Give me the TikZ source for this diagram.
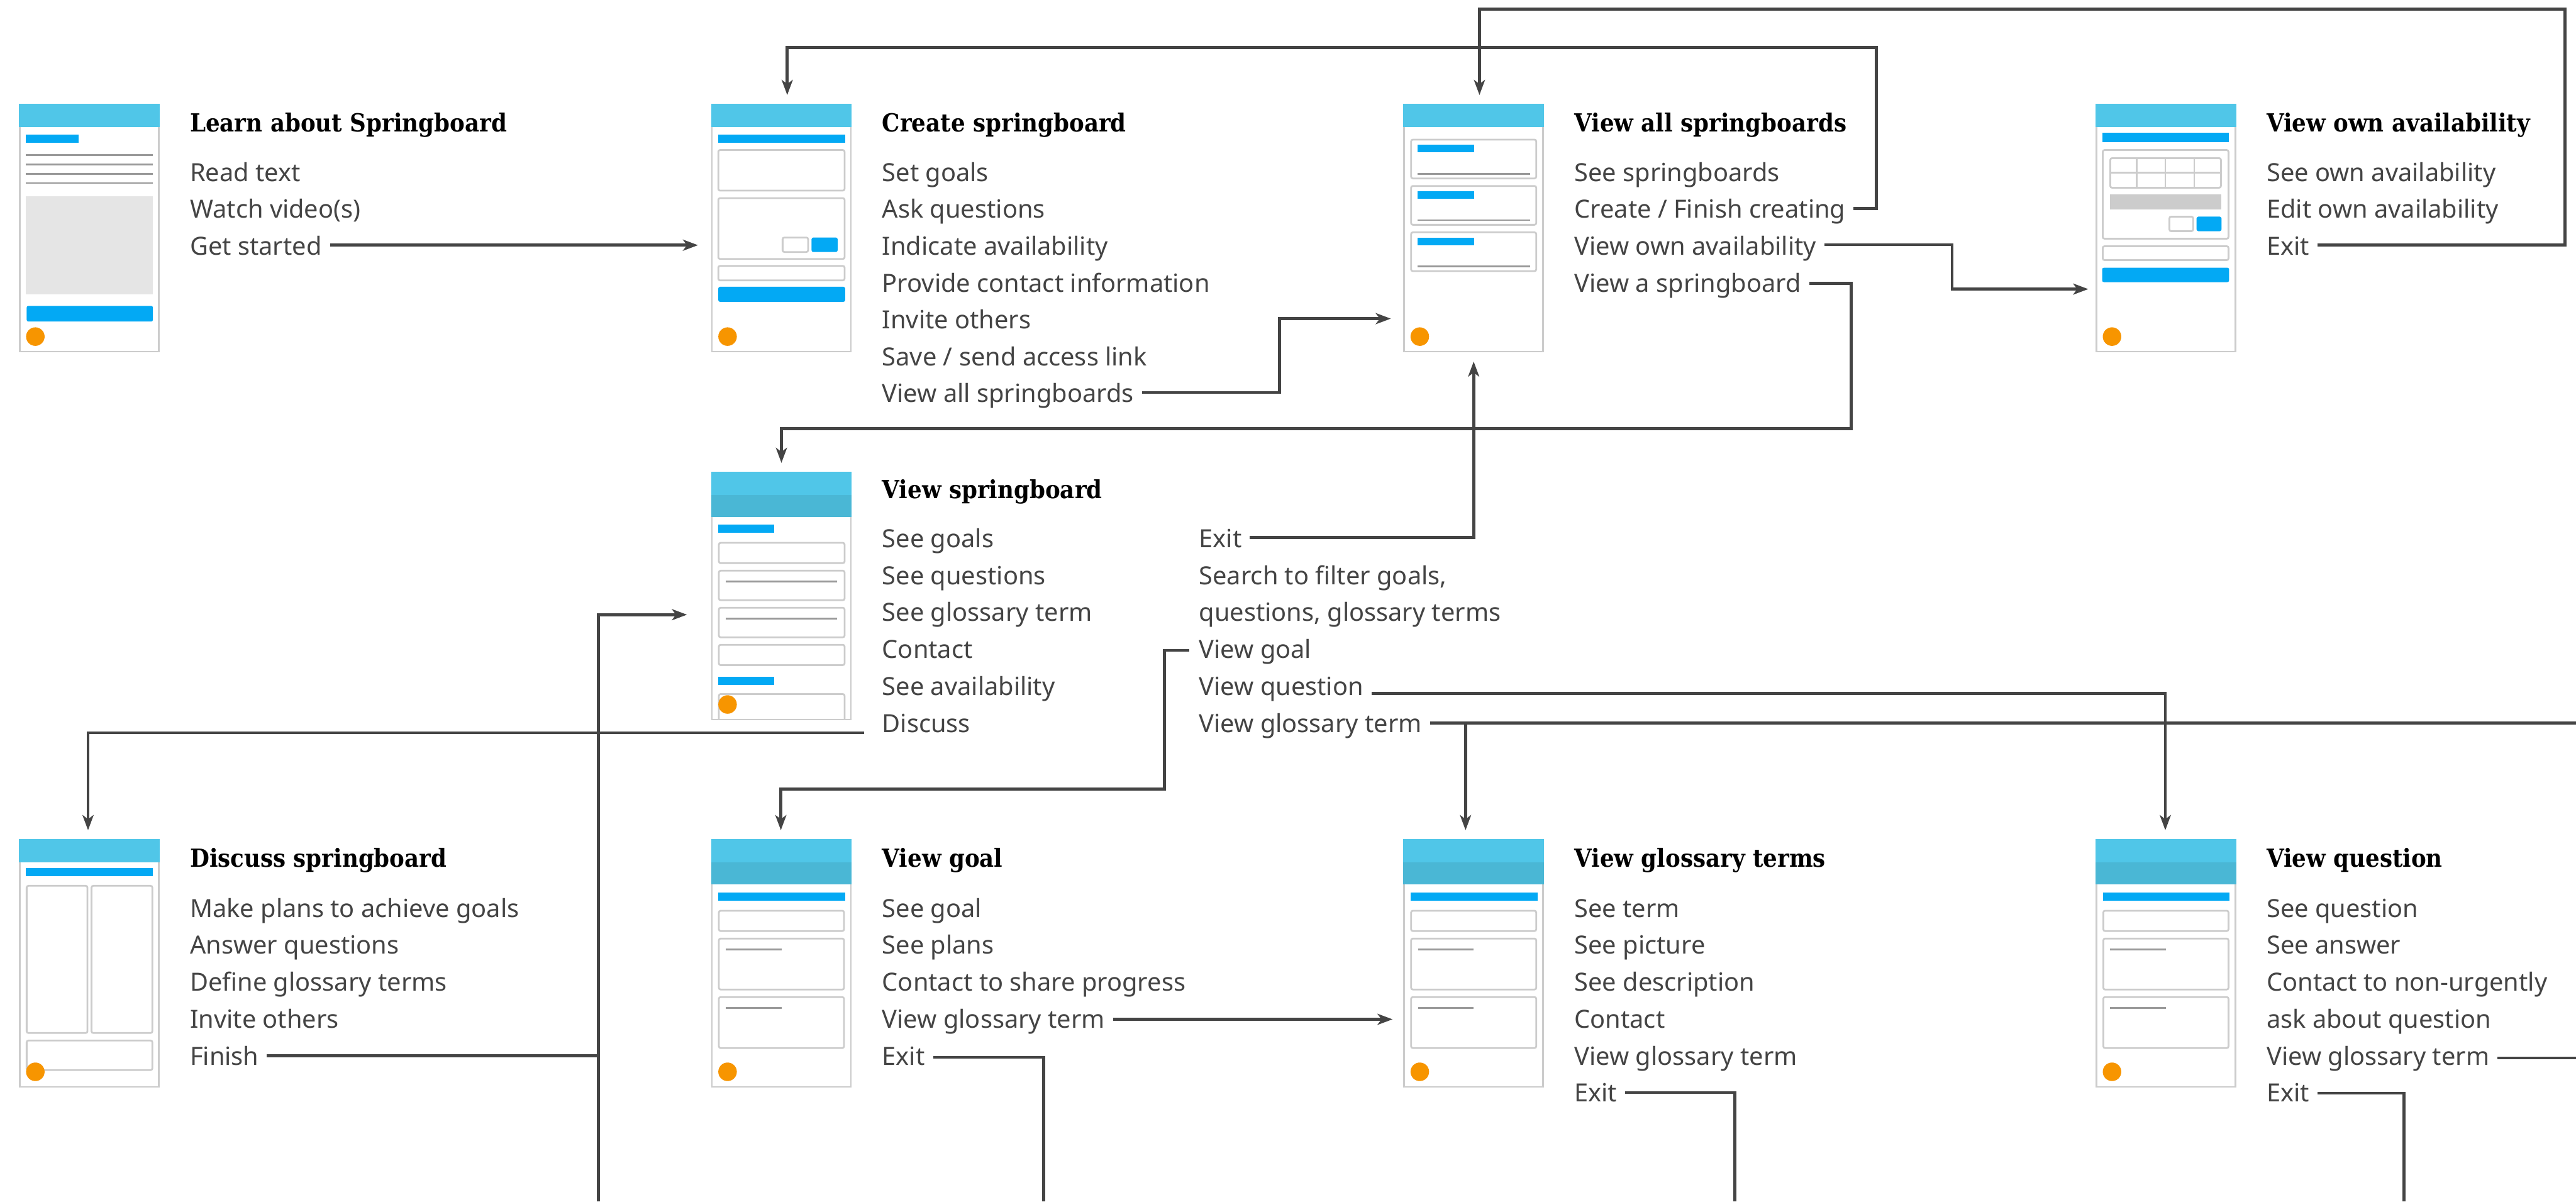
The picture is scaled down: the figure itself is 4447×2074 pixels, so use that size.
\documentclass[tikz,border=0pt]{standalone}
\usepackage{fontspec}
\setmainfont{Noto Sans}
\newfontfamily\ttlfont[FakeStretch=0.9]{DejaVu Serif}
\usetikzlibrary{arrows.meta,calc}
\definecolor{hdr}{HTML}{50C6E8}
\definecolor{hdrdk}{HTML}{4AB7D5}
\definecolor{bluebar}{HTML}{03A9F4}
\definecolor{orng}{HTML}{F79500}
\definecolor{brd}{HTML}{CCCCCC}
\definecolor{gln}{HTML}{999999}
\definecolor{gblk}{HTML}{E5E5E5}
\definecolor{gblkd}{HTML}{CCCCCC}
\definecolor{txt}{HTML}{444444}
\definecolor{cn}{HTML}{444444}
\tikzset{
  phone/.style={rectangle, draw=brd, line width=3pt, fill=white, minimum width=240pt,
    minimum height=426pt, inner sep=0pt, outer sep=0pt, anchor=north west},
  item/.style={anchor=base west, inner sep=0pt, outer sep=0pt, text=txt,
    font=\fontsize{43.2}{52}\selectfont},
  ttl/.style={anchor=base west, inner sep=0pt, outer sep=0pt, text=black,
    font=\ttlfont\bfseries\fontsize{43}{50}\selectfont},
  conn/.style={draw=cn, line width=5pt},
  arr/.style={conn, -{Stealth[length=26pt,width=19pt,inset=7pt]}},
  box/.style={draw=brd, line width=3pt, rounded corners=3pt, fill=white},
  bar/.style={fill=bluebar},
  btn/.style={fill=bluebar, rounded corners=3pt},
  gline/.style={draw=gln, line width=3pt},
  odot/.style={fill=orng},
}
\newcommand\phhdr{\fill[hdr] (-1.5,-1.5) rectangle (241.5,38);}
\newcommand\phhdrtwo{\fill[hdr] (-1.5,-1.5) rectangle (241.5,38);\fill[hdrdk] (-1.5,38) rectangle (241.5,76);}
\newcommand\phdot{\fill[odot] (27,400) circle (16);}
% Learn
\newcommand\pcA{\phhdr
  \fill[bar] (11,51) rectangle (102,65);
  \foreach \yy in {87,103,119,135}{\draw[gline] (11,\yy) -- (230,\yy);}
  \fill[gblk] (11,158) rectangle (230,327);
  \fill[btn] (12,347) rectangle (230,374);
  \phdot}
% Create
\newcommand\pcB{\phhdr
  \fill[bar] (11,51) rectangle (230,65);
  \draw[box] (11,78) rectangle (229,148);
  \draw[box] (11,161) rectangle (229,266);
  \draw[box] (122,229) rectangle (166,254);
  \fill[btn] (172,229) rectangle (217,254);
  \draw[box] (11,278) rectangle (229,303);
  \fill[btn] (11,314) rectangle (230,340);
  \phdot}
% View all
\newcommand\pcC{\phhdr
  \foreach \yy in {0,80,160}{
    \draw[box] (12,60+\yy) rectangle (228,127+\yy);
    \fill[bar] (23,69+\yy) rectangle (121,82+\yy);
    \draw[gline] (23,119+\yy) -- (217,119+\yy);}
  \phdot}
% Own availability
\newcommand\pcD{\phhdr
  \fill[bar] (10,48) rectangle (229,64);
  \draw[box] (11,78) rectangle (228,231);
  \draw[box] (24,92) rectangle (215,143);
  \draw[brd, line width=3pt] (70,92) -- (70,143) (119,92) -- (119,143) (169,92) -- (169,143) (24,117) -- (215,117);
  \fill[gblkd] (24,155) rectangle (216,181);
  \draw[box] (126,193) rectangle (167,218);
  \fill[btn] (173,193) rectangle (216,218);
  \draw[box] (11,244) rectangle (228,268);
  \fill[btn] (10,281) rectangle (229,306);
  \phdot}
% View springboard
\newcommand\pcE{\phhdrtwo
  \fill[bar] (11,90) rectangle (107,104);
  \draw[box] (12,121) rectangle (229,156);
  \draw[box] (12,169) rectangle (229,220);
  \draw[gline] (24,188) -- (216,188);
  \draw[box] (12,233) rectangle (229,284);
  \draw[gline] (24,252) -- (216,252);
  \draw[box] (12,297) rectangle (229,332);
  \fill[bar] (11,352) rectangle (107,366);
  \draw[brd, line width=3pt, rounded corners=3pt] (12,425) -- (12,382) -- (229,382) -- (229,425);
  \phdot}
% Discuss
\newcommand\pcF{\phhdr
  \fill[bar] (11,48) rectangle (230,62);
  \draw[box] (12,79) rectangle (117,333);
  \draw[box] (124,79) rectangle (229,333);
  \draw[box] (12,346) rectangle (229,397);
  \phdot}
% Goal / glossary / question
\newcommand\pcG{\phhdrtwo
  \fill[bar] (11,91) rectangle (230,105);
  \draw[box] (12,122) rectangle (228,157);
  \draw[box] (12,170) rectangle (228,258);
  \draw[gline] (24,189) -- (120,189);
  \draw[box] (12,271) rectangle (228,359);
  \draw[gline] (24,290) -- (120,290);
  \phdot}
\newcommand\mkphone[4]{\node[phone] (#1) at (#2,#3) {};
  \begin{scope}[shift={(#1.north west)}]#4\end{scope}}

\begin{document}
\begin{tikzpicture}[x=1pt,y=-1pt]
\useasboundingbox (0,0) rectangle (4447,2074);
\fill[white] (0,0) rectangle (4447,2074);
\begin{scope}
\clip (0,0) rectangle (4447,2074);

% ---------- texts: row 1 ----------
\node[ttl] (t1) at (328,227) {Learn about Springboard};
\node[item] at (328,313) {Read text};
\node[item] at (328,376.6) {Watch video(s)};
\node[item] (gs) at (328,440.2) {Get started};

\node[ttl] (t2) at (1523,227) {Create springboard};
\node[item] at (1523,313) {Set goals};
\node[item] at (1523,376.6) {Ask questions};
\node[item] at (1523,440.2) {Indicate availability};
\node[item] at (1523,503.8) {Provide contact information};
\node[item] at (1523,567.4) {Invite others};
\node[item] at (1523,631) {Save / send access link};
\node[item] (vas) at (1523,694.6) {View all springboards};

\node[ttl] (t3) at (2718,227) {View all springboards};
\node[item] at (2718,313) {See springboards};
\node[item] (cf) at (2718,376.6) {Create / Finish creating};
\node[item] (voa) at (2718,440.2) {View own availability};
\node[item] (vasb) at (2718,503.8) {View a springboard};

\node[ttl] (t4) at (3913,227) {View own availability};
\node[item] at (3913,313) {See own availability};
\node[item] at (3913,376.6) {Edit own availability};
\node[item] (oaexit) at (3913,440.2) {Exit};

% ---------- row 2 ----------
\node[ttl] (t5) at (1523,860) {View springboard};
\node[item] at (1523,945) {See goals};
\node[item] at (1523,1008.8) {See questions};
\node[item] at (1523,1072.6) {See glossary term};
\node[item] at (1523,1136.4) {Contact};
\node[item] at (1523,1200.2) {See availability};
\node[item] (dsc) at (1523,1264) {Discuss};
\node[item] (vsexit) at (2070,945) {Exit};
\node[item] at (2070,1008.8) {Search to filter goals,};
\node[item] at (2070,1072.6) {questions, glossary terms};
\node[item] (vgoal) at (2070,1136.4) {View goal};
\node[item] (vq) at (2070,1200.2) {View question};
\node[item] (vgt) at (2070,1264) {View glossary term};

% ---------- row 3 ----------
\node[ttl] (t6) at (328,1497) {Discuss springboard};
\node[item] at (328,1583) {Make plans to achieve goals};
\node[item] at (328,1646.8) {Answer questions};
\node[item] at (328,1710.6) {Define glossary terms};
\node[item] at (328,1774.4) {Invite others};
\node[item] (fin) at (328,1838.2) {Finish};

\node[ttl] (t7) at (1523,1497) {View goal};
\node[item] at (1523,1583) {See goal};
\node[item] at (1523,1646.8) {See plans};
\node[item] at (1523,1710.6) {Contact to share progress};
\node[item] (gvgt) at (1523,1774.4) {View glossary term};
\node[item] (gexit) at (1523,1838.2) {Exit};

\node[ttl] (t8) at (2718,1497) {View glossary terms};
\node[item] at (2718,1583) {See term};
\node[item] at (2718,1646.8) {See picture};
\node[item] at (2718,1710.6) {See description};
\node[item] at (2718,1774.4) {Contact};
\node[item] at (2718,1838.2) {View glossary term};
\node[item] (lexit) at (2718,1902) {Exit};

\node[ttl] (t9) at (3913,1497) {View question};
\node[item] at (3913,1583) {See question};
\node[item] at (3913,1646.8) {See answer};
\node[item] at (3913,1710.6) {Contact to non-urgently};
\node[item] at (3913,1774.4) {ask about question};
\node[item] (qvgt) at (3913,1838.2) {View glossary term};
\node[item] (qexit) at (3913,1902) {Exit};

% ---------- phones ----------
\mkphone{learn}{34}{181}{\pcA}
\mkphone{create}{1229}{181}{\pcB}
\mkphone{viewall}{2424}{181}{\pcC}
\mkphone{ownavail}{3619}{181}{\pcD}
\mkphone{viewsb}{1229}{816}{\pcE}
\mkphone{discussp}{34}{1450}{\pcF}
\mkphone{viewgoal}{1229}{1450}{\pcG}
\mkphone{glossary}{2424}{1450}{\pcG}
\mkphone{question}{3619}{1450}{\pcG}

% ---------- connectors ----------
\coordinate (redge) at (4447,0);

\coordinate (c1) at ([shift={(14,-17)}]gs.base east);
\draw[arr, shorten >=24pt] (c1) -- (c1 -| create.west);

\coordinate (c2) at ([shift={(14,-17)}]cf.base east);
\draw[arr] (c2) -| (3239,82) -| ($(create.north west)+(130,-17)$);

\coordinate (c3) at ([shift={(14,-17)}]oaexit.base east);
\draw[arr] (c3) -| (4428,16) -| ($(viewall.north west)+(130,-17)$);

\coordinate (c4) at ([shift={(14,-17)}]vas.base east);
\draw[arr] (c4) -| (2209,550) -- ($(viewall.north west)+(-23,369)$);

\coordinate (c5) at ([shift={(14,-18)}]voa.base east);
\draw[arr] (c5) -| (3370,499) -- ($(ownavail.north west)+(-14,318)$);

\coordinate (c6) at ([shift={(14,-15)}]vasb.base east);
\draw[arr] (c6) -| (3196,740) -| ($(viewsb.north west)+(120,-17)$);

\coordinate (c7) at ([shift={(14,-17)}]vsexit.base east);
\draw[arr] (c7) -| ($(viewall.south west)+(120,17)$);

\coordinate (c8) at ([shift={(-17,-14)}]vgoal.base west);
\draw[arr] (c8) -| (2010,1362) -| ($(viewgoal.north west)+(119,-17)$);

\coordinate (c9) at ([shift={(14,-3)}]vq.base east);
\draw[arr] (c9) -| ($(question.north west)+(119,-17)$);

\coordinate (c10) at ([shift={(14,-16)}]vgt.base east);
\draw[conn] (c10) -- (c10 -| redge);
\coordinate (gtop) at ($(glossary.north west)+(106,-17)$);
\draw[arr] (c10 -| gtop) -- (gtop);

\coordinate (c11) at ([shift={(-31,1)}]dsc.base west);
\draw[arr] (c11) -| ($(discussp.north west)+(118,-17)$);

\coordinate (spine) at (1033,2074);
\coordinate (vsin) at ($(viewsb.north west)+(-43,245)$);
\draw[arr] (spine) |- (vsin);
\coordinate (c12) at ([shift={(14,-16)}]fin.base east);
\draw[conn] (c12) -- (c12 -| spine);

\coordinate (c13) at ([shift={(14,-15)}]gvgt.base east);
\draw[arr, shorten >=20pt] (c13) -- (c13 -| glossary.west);

\coordinate (c14) at ([shift={(14,-13)}]gexit.base east);
\draw[conn] (c14) -| (1802,2074);

\coordinate (c15) at ([shift={(14,-16)}]lexit.base east);
\draw[conn] (c15) -| (2995,2074);

\coordinate (c16) at ([shift={(14,-12)}]qvgt.base east);
\draw[conn] (c16) -- (c16 -| redge);

\coordinate (c17) at ([shift={(14,-15)}]qexit.base east);
\draw[conn] (c17) -| (4150,2074);
\end{scope}
\end{tikzpicture}
\end{document}
